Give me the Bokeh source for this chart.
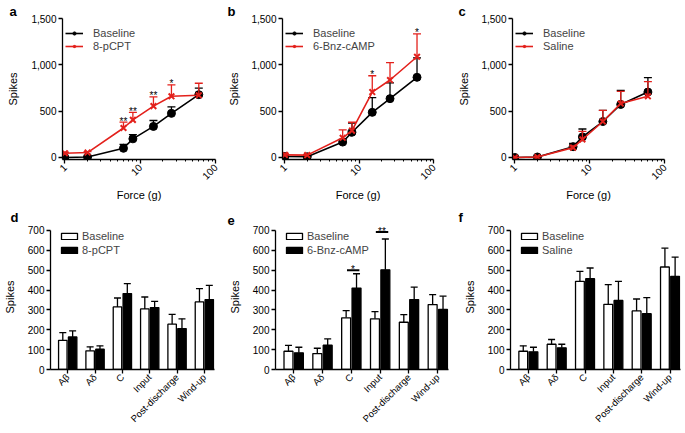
from math import pi
import numpy as np
from bokeh.plotting import figure
from bokeh.layouts import column, row
from bokeh.models import Range1d, FixedTicker, NumeralTickFormatter, Legend, LegendItem
from bokeh.embed import file_html
from bokeh.resources import INLINE
from bokeh.core.properties import value

# ---------------- data ----------------
forces = [1, 2, 6, 8, 15, 26, 60]
force_ticks = [1, 10, 100]
force_minor = [2, 3, 4, 5, 6, 7, 8, 9, 20, 30, 40, 50, 60, 70, 80, 90]
spike_ticks = [0, 500, 1000, 1500]

a_base = [0, 5, 99, 201, 335, 476, 678]
a_base_err = [3, 5, 42, 46, 64, 71, 70]
a_trt = [46, 53, 318, 406, 554, 660, 671]
a_trt_err = [10, 10, 63, 81, 99, 124, 130]
a_stars = ["", "", "**", "**", "**", "*", ""]

b_base = [10, 7, 166, 272, 487, 635, 865]
b_base_err = [5, 5, 30, 98, 159, 170, 210]
b_trt = [28, 25, 212, 290, 706, 836, 1087]
b_trt_err = [15, 8, 85, 90, 176, 188, 247]
b_stars = ["", "", "", "", "*", "", "*"]

c_base = [0, 5, 116, 222, 388, 572, 706]
c_base_err = [2, 3, 36, 85, 120, 152, 155]
c_trt = [0, 5, 106, 194, 388, 582, 660]
c_trt_err = [2, 3, 18, 88, 120, 131, 159]
c_stars = ["", "", "", "", "", "", ""]

cats = ["A\u03b2", "A\u03b4", "C", "Input", "Post-discharge", "Wind-up"]
bar_ticks = [0, 100, 200, 300, 400, 500, 600, 700]

d_base = [147, 94, 315, 305, 228, 340]
d_base_err = [39, 20, 45, 60, 50, 67]
d_trt = [164, 102, 382, 312, 206, 352]
d_trt_err = [30, 17, 50, 31, 49, 72]

e_base = [92, 80, 260, 255, 238, 327]
e_base_err = [29, 27, 36, 36, 38, 50]
e_trt = [84, 122, 410, 502, 352, 302]
e_trt_err = [28, 32, 72, 155, 63, 67]
e_sig_cats = ["C", "Input"]
e_sig_y = [500, 692]
e_sig_text = ["*", "**"]

f_base = [92, 127, 444, 328, 295, 516]
f_base_err = [27, 24, 50, 99, 60, 95]
f_trt = [89, 109, 457, 348, 281, 469]
f_trt_err = [23, 18, 54, 96, 81, 97]

# ---------------- style ----------------
FONT = "Liberation Sans"
RED = "#e3211c"


def style_axes(p, lab_standoff):
    for ax in (p.xaxis[0], p.yaxis[0]):
        ax.axis_line_width = 1.3
        ax.major_tick_line_width = 1.3
        ax.minor_tick_line_width = 1.0
        ax.major_tick_in = 0
        ax.major_tick_out = 4
        ax.minor_tick_in = 0
        ax.minor_tick_out = 2
        ax.major_label_standoff = 2
        ax.major_label_text_font = FONT
        ax.major_label_text_font_size = "10px"
        ax.major_label_text_color = "black"
        ax.axis_label_text_font = FONT
        ax.axis_label_text_font_size = "11px"
        ax.axis_label_text_font_style = "normal"
        ax.axis_label_text_color = "black"
    p.yaxis[0].axis_label_standoff = lab_standoff
    p.grid.visible = False
    p.outline_line_color = None


def set_letter(p, letter, dx):
    p.title.text = letter
    p.title.align = "left"
    p.title.offset = dx
    p.title.standoff = 0
    p.title.text_font = FONT
    p.title.text_font_size = "13px"
    p.title.text_line_height = 1.0
    p.title.text_font_style = "bold"
    p.title.text_color = "black"


def style_legend(legend, loc, gh, spacing, standoff):
    legend.location = loc
    legend.border_line_color = None
    legend.background_fill_alpha = 0
    legend.margin = 0
    legend.padding = 0
    legend.spacing = spacing
    legend.glyph_height = gh
    legend.label_height = gh
    legend.label_standoff = standoff
    legend.label_text_baseline = "alphabetic"
    legend.label_text_font = FONT
    legend.label_text_font_size = "11px"


def line_panel(letter, base, base_err, trt, trt_err, trt_name, stars, w, bl, br, ldx, lab_standoff):
    p = figure(width=w, height=203, x_axis_type="log", x_range=Range1d(0.93, 100),
               y_range=Range1d(-22, 1500), output_backend="svg", toolbar_location=None,
               min_border_left=bl, min_border_right=br, min_border_top=18, min_border_bottom=43)
    x = np.array(forces, dtype=float)
    b = np.array(base, dtype=float)
    be = np.array(base_err, dtype=float)
    t = np.array(trt, dtype=float)
    te = np.array(trt_err, dtype=float)

    p.segment(x, b, x, b + be, line_color="black", line_width=1.3)
    p.scatter(x, b + be, marker="dash", size=8, line_color="black", line_width=1.3)
    rb1 = p.line(x, b, line_color="black", line_width=1.6)
    rb2 = p.scatter(x, b, marker="circle", size=8, fill_color="black", line_color="black")

    p.segment(x, t, x, t + te, line_color=RED, line_width=1.3)
    p.scatter(x, t + te, marker="dash", size=8, line_color=RED, line_width=1.3)
    rt1 = p.line(x, t, line_color=RED, line_width=1.6)
    rt2 = p.scatter(x, t, marker="x", size=8, line_color=RED, line_width=2)

    idx = [i for i, s in enumerate(stars) if s]
    if idx:
        p.text([x[i] for i in idx], [t[i] + te[i] + 12 for i in idx], text=[stars[i] for i in idx],
               text_align="center", text_baseline="alphabetic", text_font=value(FONT),
               text_font_size="10px", text_color="black")

    legend = Legend(items=[LegendItem(label="Baseline", renderers=[rb1, rb2]),
                           LegendItem(label=trt_name, renderers=[rt1, rt2])])
    style_legend(legend, (3, 107), 8, 1, 10)
    legend.glyph_width = 18
    p.add_layout(legend)

    style_axes(p, lab_standoff)
    p.xaxis.ticker = FixedTicker(ticks=force_ticks, minor_ticks=force_minor)
    p.xaxis.formatter = NumeralTickFormatter(format="0,0")
    p.xaxis.major_label_orientation = pi / 4
    p.xaxis.axis_label = "Force (g)"
    p.xaxis.axis_label_standoff = 3
    p.yaxis.ticker = FixedTicker(ticks=spike_ticks)
    p.yaxis.formatter = NumeralTickFormatter(format="0,0")
    p.yaxis.minor_tick_line_color = None
    p.yaxis.axis_label = "Spikes"
    set_letter(p, letter, ldx)
    return p


def bar_panel(letter, base, base_err, trt, trt_err, trt_name, w, bl, br, ldx, lab_standoff,
              sig_cats=None, sig_y=None, sig_text=None):
    p = figure(width=w, height=230, x_range=Range1d(-0.63, 5.37), y_range=Range1d(0, 730),
               output_backend="svg", toolbar_location=None,
               min_border_left=bl, min_border_right=br, min_border_top=21, min_border_bottom=64)
    xs = np.arange(len(cats), dtype=float)
    xb = xs - 0.18
    xt = xs + 0.18
    b = np.array(base, dtype=float)
    be = np.array(base_err, dtype=float)
    t = np.array(trt, dtype=float)
    te = np.array(trt_err, dtype=float)

    p.segment(xb, b, xb, b + be, line_color="black", line_width=1.3)
    p.scatter(xb, b + be, marker="dash", size=7, line_color="black", line_width=1.3)
    p.segment(xt, t, xt, t + te, line_color="black", line_width=1.3)
    p.scatter(xt, t + te, marker="dash", size=7, line_color="black", line_width=1.3)
    r1 = p.vbar(x=xb, top=b, bottom=0, width=0.31, fill_color="white", line_color="black", line_width=1.3)
    r2 = p.vbar(x=xt, top=t, bottom=0, width=0.31, fill_color="black", line_color="black", line_width=1.3)

    if sig_cats:
        sx = np.array([cats.index(c) for c in sig_cats], dtype=float)
        sy = np.array(sig_y, dtype=float)
        p.segment(sx - 0.15, sy, sx + 0.28, sy, line_color="black", line_width=2)
        p.text(sx + 0.06, sy + 4, text=sig_text, text_align="center", text_baseline="alphabetic",
               text_font=value(FONT), text_font_size="10px", text_color="black")

    legend = Legend(items=[LegendItem(label="Baseline", renderers=[r1]),
                           LegendItem(label=trt_name, renderers=[r2])])
    style_legend(legend, (9, 113), 8, 2, 3)
    legend.glyph_width = 20
    p.add_layout(legend)

    style_axes(p, lab_standoff)
    p.xaxis.ticker = FixedTicker(ticks=list(range(len(cats))))
    p.xaxis.major_label_overrides = {i: c for i, c in enumerate(cats)}
    p.xaxis.major_label_orientation = pi / 4
    p.xaxis.minor_tick_line_color = None
    p.xaxis.major_label_text_font_size = "9.5px"
    p.yaxis.ticker = FixedTicker(ticks=bar_ticks)
    p.yaxis.bounds = (0, 700)
    p.yaxis.minor_tick_line_color = None
    p.yaxis.axis_label = "Spikes"
    set_letter(p, letter, ldx)
    return p


pa = line_panel("a", a_base, a_base_err, a_trt, a_trt_err, "8-pCPT", a_stars, 224, 62, 9, -53, 9)
pb = line_panel("b", b_base, b_base_err, b_trt, b_trt_err, "6-Bnz-cAMP", b_stars, 231, 58, 22, -55, 8)
pc = line_panel("c", c_base, c_base_err, c_trt, c_trt_err, "Saline", c_stars, 227, 57, 18, -54, 8)

pd = bar_panel("d", d_base, d_base_err, d_trt, d_trt_err, "8-pCPT", 225, 42, 11, -40, 9)
pe = bar_panel("e", e_base, e_base_err, e_trt, e_trt_err, "6-Bnz-cAMP", 230, 50, 7, -48, 9,
               e_sig_cats, e_sig_y, e_sig_text)
pf = bar_panel("f", f_base, f_base_err, f_trt, f_trt_err, "Saline", 227, 55, 2, -52, 9)

layout = column(row(pa, pb, pc), row(pd, pe, pf))
open("out.html", "w").write(file_html(layout, INLINE, title="Spikes"))
